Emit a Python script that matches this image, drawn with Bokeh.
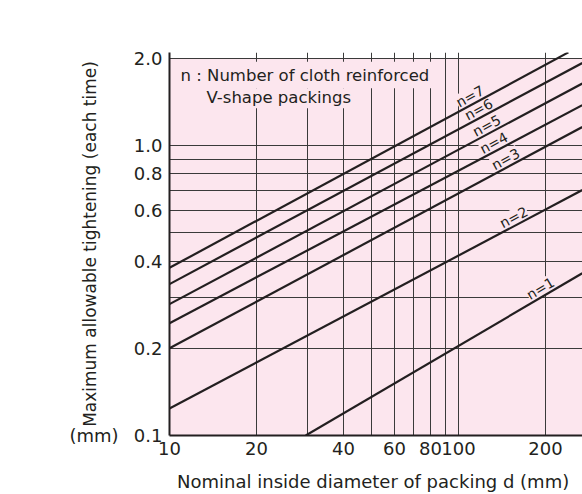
import math
from bokeh.plotting import figure
from bokeh.models import (FixedTicker, CustomJSTickFormatter, BoxAnnotation, Label,
                          ColumnDataSource, Range1d, LogAxis)
from bokeh.core.properties import value
from bokeh.embed import file_html
from bokeh.resources import INLINE

# ---------------- data ----------------
x_tick_values = [10, 20, 40, 60, 80, 100, 200]
y_tick_values = [0.1, 0.2, 0.4, 0.6, 0.8, 1.0, 2.0]
x_grid_values = [20, 30, 40, 50, 60, 70, 80, 90, 100, 200]
y_grid_values = [0.2, 0.3, 0.4, 0.5, 0.6, 0.7, 0.8, 0.9, 1.0, 2.0]

series_names = ["n=1", "n=2", "n=3", "n=4", "n=5", "n=6", "n=7"]
d_n1 = [29.6, 268];  t_n1 = [0.100, 0.363]
d_n2 = [10, 268];    t_n2 = [0.124, 0.703]
d_n3 = [10, 268];    t_n3 = [0.200, 1.16]
d_n4 = [10, 268];    t_n4 = [0.244, 1.38]
d_n5 = [10, 268];    t_n5 = [0.284, 1.64]
d_n6 = [10, 268];    t_n6 = [0.333, 1.93]
d_n7 = [10, 240];    t_n7 = [0.379, 2.10]
series_d = [d_n1, d_n2, d_n3, d_n4, d_n5, d_n6, d_n7]
series_t = [t_n1, t_n2, t_n3, t_n4, t_n5, t_n6, t_n7]

# where (along d) each inline label sits
label_d = [198.5, 160, 150, 136.5, 129, 121, 113]

# ---------------- styling ----------------
FONT = "DejaVu Sans"
PINK = "#fce6ee"
INK = "#231f20"
GRID = "#3a3a3a"

W, H = 582, 494
B_LEFT, B_RIGHT, B_TOP, B_BOTTOM = 169, 0, 52, 58
X0, X1 = 10, 268.5
Y0, Y1 = 0.1, 2.098

p = figure(width=W, height=H, x_axis_type="log", y_axis_type="log",
           x_range=Range1d(X0, X1), y_range=Range1d(Y0, Y1),
           output_backend="svg", toolbar_location=None,
           min_border_left=B_LEFT, min_border_right=B_RIGHT,
           min_border_top=B_TOP, min_border_bottom=B_BOTTOM)
p.outline_line_color = None
p.background_fill_color = "white"
p.border_fill_color = "white"

# pink chart area (0.1 .. 2.0)
p.add_layout(BoxAnnotation(bottom=0.1, top=2.0, left=X0, right=X1,
                           fill_color=PINK, fill_alpha=1, line_color=None,
                           level="image"))

# grids
p.xgrid.ticker = FixedTicker(ticks=x_grid_values)
p.ygrid.ticker = FixedTicker(ticks=y_grid_values)
for g in (p.xgrid, p.ygrid):
    g.grid_line_color = GRID
    g.grid_line_width = 1
    g.grid_line_alpha = 1
    g.minor_grid_line_color = None

# axes
p.xaxis.ticker = FixedTicker(ticks=x_tick_values, minor_ticks=[])
p.yaxis.ticker = FixedTicker(ticks=y_tick_values, minor_ticks=[])
p.xaxis.formatter = CustomJSTickFormatter(code="return tick.toFixed(0);")
p.yaxis.formatter = CustomJSTickFormatter(code="return tick.toFixed(1);")
for ax in (p.xaxis, p.yaxis):
    ax.axis_line_width = 2
    ax.axis_line_color = INK
    ax.major_tick_line_color = None
    ax.minor_tick_line_color = None
    ax.major_tick_out = 0
    ax.major_tick_in = 0
    ax.major_label_text_font = FONT
    ax.major_label_text_font_size = "18px"
    ax.major_label_text_color = INK
    ax.axis_label_text_font = FONT
    ax.axis_label_text_font_size = "18px"
    ax.axis_label_text_font_style = "normal"
    ax.axis_label_text_color = INK
p.yaxis.major_label_standoff = 7
p.xaxis.major_label_standoff = 6
p.xaxis.axis_label = "Nominal inside diameter of packing  d (mm)"
p.xaxis.axis_label_standoff = 13
p.yaxis.axis_label = "Maximum allowable tightening (each time)"
p.yaxis.axis_label_text_font_size = "17px"
p.yaxis.axis_label_standoff = 31

# unit "(mm)" shown by a second, line-less left axis
unit_axis = LogAxis(ticker=FixedTicker(ticks=[0.1], minor_ticks=[]),
                    formatter=CustomJSTickFormatter(code="return '(mm)';"),
                    axis_line_color=None, major_tick_line_color=None,
                    minor_tick_line_color=None, major_tick_out=0, major_tick_in=0,
                    major_label_standoff=-42,
                    major_label_text_font=FONT, major_label_text_font_size="18px",
                    major_label_text_color=INK)
p.add_layout(unit_axis, "left")

# frame pixel scale (for label angles)
XPX = (W - B_LEFT - B_RIGHT) / math.log10(X1 / X0)
YPX = (H - B_TOP - B_BOTTOM) / math.log10(Y1 / Y0)

def at(xs, ys, x):
    lx0, lx1 = math.log10(xs[0]), math.log10(xs[-1])
    ly0, ly1 = math.log10(ys[0]), math.log10(ys[-1])
    t = (math.log10(x) - lx0) / (lx1 - lx0)
    return 10 ** (ly0 + t * (ly1 - ly0))

lab_x, lab_y, lab_a = [], [], []
for xs, ys, lx in zip(series_d, series_t, label_d):
    slope = (math.log10(ys[-1]) - math.log10(ys[0])) / (math.log10(xs[-1]) - math.log10(xs[0]))
    lab_x.append(lx)
    lab_y.append(at(xs, ys, lx))
    lab_a.append(math.atan(slope * YPX / XPX))

# inline labels (drawn before the lines so the lines stay on top)
lab_src = ColumnDataSource(dict(x=lab_x, y=lab_y, angle=lab_a, text=series_names))
p.text(x="x", y="y", text="text", angle="angle", source=lab_src,
       text_font=value(FONT), text_font_size="14px", text_color=INK,
       text_align="center", text_baseline="bottom",
       background_fill_color=PINK)

# the lines
for xs, ys in zip(series_d, series_t):
    p.line(xs, ys, line_color=INK, line_width=2.2)

# note box
p.add_layout(BoxAnnotation(left=10.57, right=81.3, top=1.95, bottom=1.58,
                           fill_color=PINK, fill_alpha=1, line_color=None))
p.add_layout(BoxAnnotation(left=13.0, right=44.7, top=1.58, bottom=1.348,
                           fill_color=PINK, fill_alpha=1, line_color=None))
p.add_layout(Label(x=10.92, y=1.751, text="n : Number of cloth reinforced",
                   text_font=FONT, text_font_size="16.5px", text_color=INK,
                   text_align="left", text_baseline="middle"))
p.add_layout(Label(x=13.43, y=1.471, text="V-shape packings",
                   text_font=FONT, text_font_size="16.5px", text_color=INK,
                   text_align="left", text_baseline="middle"))

open("out.html", "w").write(file_html(p, INLINE))
